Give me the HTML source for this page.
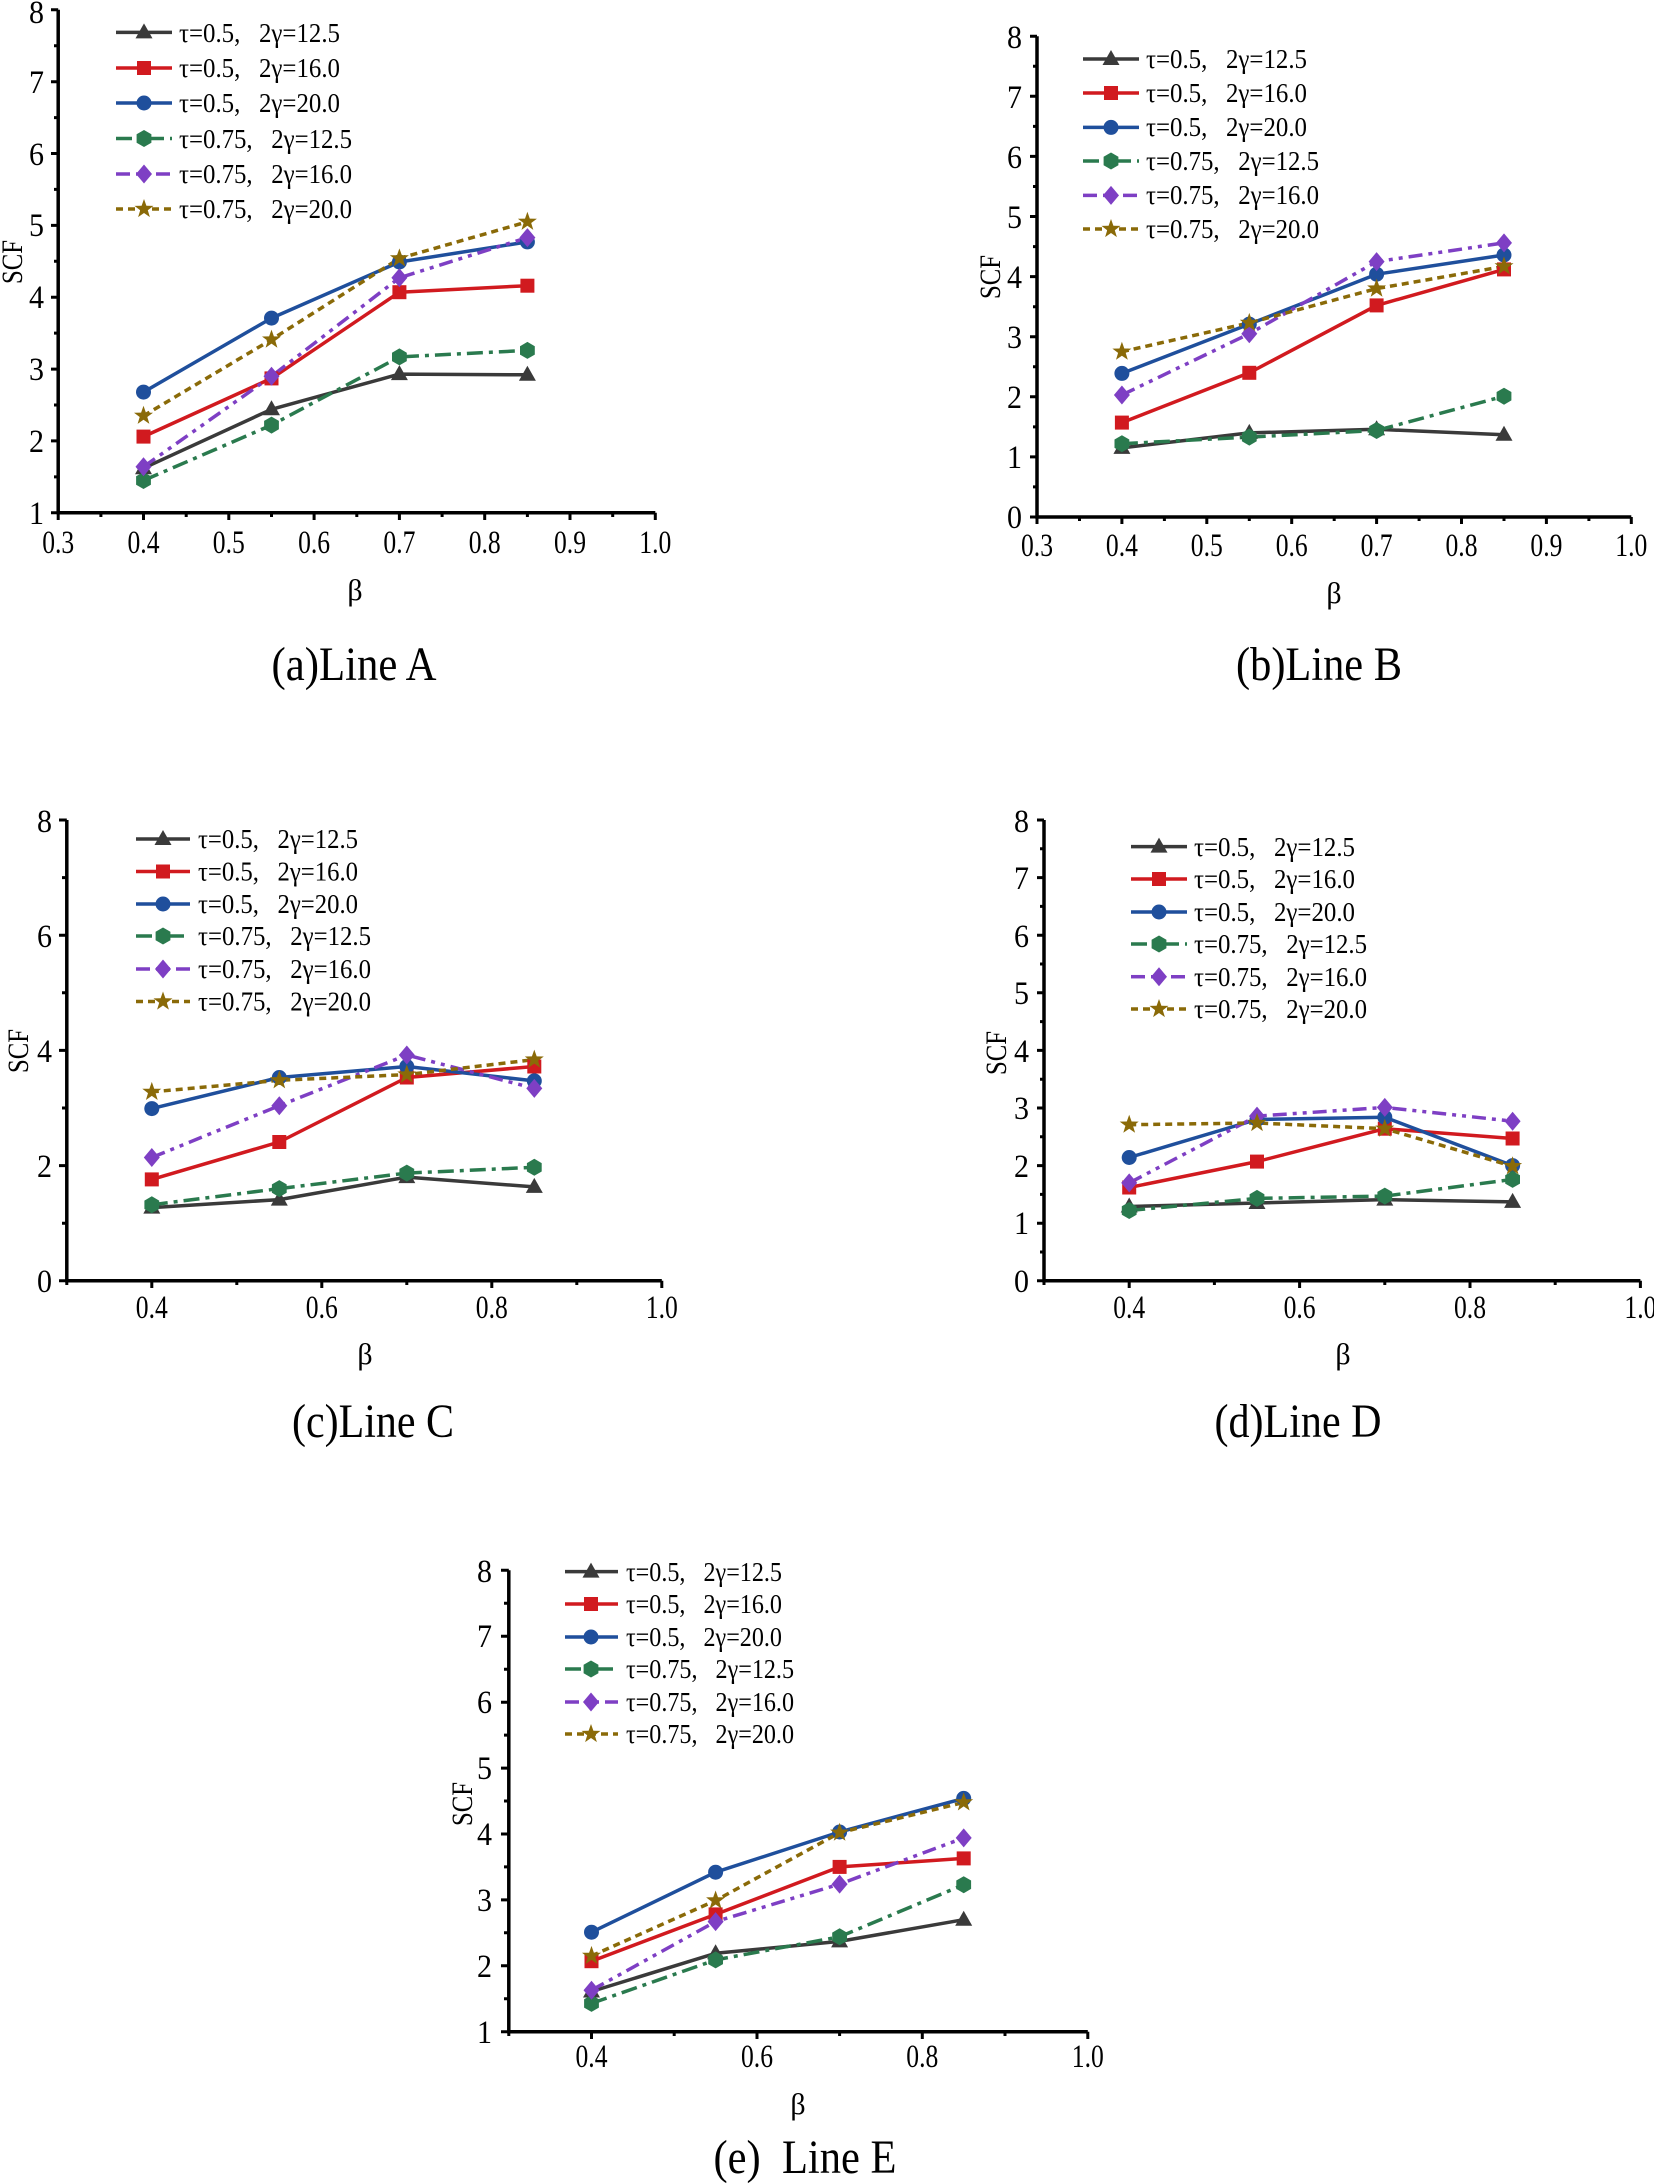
<!DOCTYPE html>
<html><head><meta charset="utf-8"><style>
html,body{margin:0;padding:0;background:#fff}
svg{display:block}
text{font-family:"Liberation Serif","DejaVu Serif",serif;fill:#000}
.t{font-size:33px}.l{font-size:27px}.h{font-size:48px}.a{font-size:30px}
.ax{stroke:#000;stroke-width:3.5;fill:none}
.tk{stroke:#000;stroke-width:3;fill:none}
.s{fill:none;stroke-width:3.5;stroke-linejoin:round;stroke-linecap:butt}
.k{stroke:#3a3a3a}.r{stroke:#d11a1f}.b{stroke:#1f4f9c}
.g{stroke:#2a7a4e;stroke-dasharray:16 6 4 6}
.p{stroke:#7e3fc4;stroke-dasharray:14 6 4 6 4 6}
.o{stroke:#8a6a08;stroke-dasharray:7 5}
</style></head><body>
<svg width="1654" height="2184" viewBox="0 0 1654 2184" xmlns="http://www.w3.org/2000/svg">
<defs>
<polygon id="mk" points="0,-9 8.5,6 -8.5,6" fill="#3a3a3a"/>
<rect id="mr" x="-7" y="-7" width="14" height="14" fill="#d11a1f"/>
<circle id="mb" r="7.5" fill="#1f4f9c"/>
<polygon id="mg" points="0,-8.5 7.4,-4.2 7.4,4.2 0,8.5 -7.4,4.2 -7.4,-4.2" fill="#2a7a4e"/>
<polygon id="mp" points="0,-9.5 8,0 0,9.5 -8,0" fill="#7e3fc4"/>
<polygon id="mo" points="0,-10 2.4,-3.2 9.5,-3.1 3.8,1.2 5.9,8.1 0,4 -5.9,8.1 -3.8,1.2 -9.5,-3.1 -2.4,-3.2" fill="#8a6a08"/>
</defs>

<!-- ================= Panel A ================= -->
<path class="ax" d="M58.2,9.8 L58.2,512.8 L655.3,512.8"/>
<path class="tk" d="M58.2,512.8L51,512.8M58.2,440.9L51,440.9M58.2,369.1L51,369.1M58.2,297.2L51,297.2M58.2,225.4L51,225.4M58.2,153.5L51,153.5M58.2,81.7L51,81.7M58.2,9.8L51,9.8
M58.2,476.9L54,476.9M58.2,405L54,405M58.2,333.1L54,333.1M58.2,261.3L54,261.3M58.2,189.4L54,189.4M58.2,117.6L54,117.6M58.2,45.7L54,45.7
M58.2,512.8L58.2,520M143.5,512.8L143.5,520M228.8,512.8L228.8,520M314.1,512.8L314.1,520M399.4,512.8L399.4,520M484.7,512.8L484.7,520M570,512.8L570,520M655.3,512.8L655.3,520
M100.9,512.8L100.9,517M186.2,512.8L186.2,517M271.5,512.8L271.5,517M356.8,512.8L356.8,517M442.1,512.8L442.1,517M527.4,512.8L527.4,517M612.7,512.8L612.7,517"/>
<g class="t" text-anchor="end">
<text x="44" y="524" textLength="15" lengthAdjust="spacingAndGlyphs">1</text>
<text x="44" y="452" textLength="15" lengthAdjust="spacingAndGlyphs">2</text>
<text x="44" y="380" textLength="15" lengthAdjust="spacingAndGlyphs">3</text>
<text x="44" y="308" textLength="15" lengthAdjust="spacingAndGlyphs">4</text>
<text x="44" y="236" textLength="15" lengthAdjust="spacingAndGlyphs">5</text>
<text x="44" y="165" textLength="15" lengthAdjust="spacingAndGlyphs">6</text>
<text x="44" y="93" textLength="15" lengthAdjust="spacingAndGlyphs">7</text>
<text x="44" y="23" textLength="15" lengthAdjust="spacingAndGlyphs">8</text>
</g>
<g class="t" text-anchor="middle">
<text x="58.2" y="553" textLength="32" lengthAdjust="spacingAndGlyphs">0.3</text>
<text x="143.5" y="553" textLength="32" lengthAdjust="spacingAndGlyphs">0.4</text>
<text x="228.8" y="553" textLength="32" lengthAdjust="spacingAndGlyphs">0.5</text>
<text x="314.1" y="553" textLength="32" lengthAdjust="spacingAndGlyphs">0.6</text>
<text x="399.4" y="553" textLength="32" lengthAdjust="spacingAndGlyphs">0.7</text>
<text x="484.7" y="553" textLength="32" lengthAdjust="spacingAndGlyphs">0.8</text>
<text x="570" y="553" textLength="32" lengthAdjust="spacingAndGlyphs">0.9</text>
<text x="655.3" y="553" textLength="32" lengthAdjust="spacingAndGlyphs">1.0</text>
</g>
<text class="a" x="355" y="600" text-anchor="middle">β</text>
<text class="a" transform="translate(22,262) rotate(-90)" text-anchor="middle" textLength="44" lengthAdjust="spacingAndGlyphs">SCF</text>
<text class="h" x="354" y="680" text-anchor="middle" textLength="165" lengthAdjust="spacingAndGlyphs">(a)Line A</text>
<polyline class="s k" points="143.5,468.2 271.5,409.3 399.4,374.1 527.4,374.8"/>
<polyline class="s r" points="143.5,436.6 271.5,378.4 399.4,292.2 527.4,285.7"/>
<polyline class="s b" points="143.5,392.1 271.5,318.1 399.4,262 527.4,241.9"/>
<polyline class="s g" points="143.5,480.5 271.5,425.1 399.4,356.9 527.4,350.4"/>
<polyline class="s p" points="143.5,466.8 271.5,376.3 399.4,277.8 527.4,237.6"/>
<polyline class="s o" points="143.5,415.8 271.5,339.6 399.4,258.4 527.4,221.8"/>
<use href="#mk" x="143.5" y="468.2"/><use href="#mk" x="271.5" y="409.3"/><use href="#mk" x="399.4" y="374.1"/><use href="#mk" x="527.4" y="374.8"/>
<use href="#mr" x="143.5" y="436.6"/><use href="#mr" x="271.5" y="378.4"/><use href="#mr" x="399.4" y="292.2"/><use href="#mr" x="527.4" y="285.7"/>
<use href="#mb" x="143.5" y="392.1"/><use href="#mb" x="271.5" y="318.1"/><use href="#mb" x="399.4" y="262"/><use href="#mb" x="527.4" y="241.9"/>
<use href="#mg" x="143.5" y="480.5"/><use href="#mg" x="271.5" y="425.1"/><use href="#mg" x="399.4" y="356.9"/><use href="#mg" x="527.4" y="350.4"/>
<use href="#mp" x="143.5" y="466.8"/><use href="#mp" x="271.5" y="376.3"/><use href="#mp" x="399.4" y="277.8"/><use href="#mp" x="527.4" y="237.6"/>
<use href="#mo" x="143.5" y="415.8"/><use href="#mo" x="271.5" y="339.6"/><use href="#mo" x="399.4" y="258.4"/><use href="#mo" x="527.4" y="221.8"/>
<path class="s k" d="M116,32.4H172"/><use href="#mk" x="144" y="32.4"/>
<path class="s r" d="M116,68H172"/><use href="#mr" x="144" y="68"/>
<path class="s b" d="M116,103H172"/><use href="#mb" x="144" y="103"/>
<path class="s g" d="M116,138.5H172"/><use href="#mg" x="144" y="138.5"/>
<path class="s p" d="M116,174H172"/><use href="#mp" x="144" y="174"/>
<path class="s o" d="M116,209H172"/><use href="#mo" x="144" y="209"/>
<g class="l">
<text x="179" y="42" textLength="161" lengthAdjust="spacingAndGlyphs">τ=0.5,&#160;&#160;&#160;2γ=12.5</text>
<text x="179" y="77" textLength="161" lengthAdjust="spacingAndGlyphs">τ=0.5,&#160;&#160;&#160;2γ=16.0</text>
<text x="179" y="112" textLength="161" lengthAdjust="spacingAndGlyphs">τ=0.5,&#160;&#160;&#160;2γ=20.0</text>
<text x="179" y="148" textLength="173" lengthAdjust="spacingAndGlyphs">τ=0.75,&#160;&#160;&#160;2γ=12.5</text>
<text x="179" y="183" textLength="173" lengthAdjust="spacingAndGlyphs">τ=0.75,&#160;&#160;&#160;2γ=16.0</text>
<text x="179" y="218" textLength="173" lengthAdjust="spacingAndGlyphs">τ=0.75,&#160;&#160;&#160;2γ=20.0</text>
</g>

<!-- ================= Panel B ================= -->
<path class="ax" d="M1037,36.2 L1037,517 L1631.3,517"/>
<path class="tk" d="M1037,517L1030,517M1037,456.9L1030,456.9M1037,396.8L1030,396.8M1037,336.7L1030,336.7M1037,276.6L1030,276.6M1037,216.5L1030,216.5M1037,156.4L1030,156.4M1037,96.3L1030,96.3M1037,36.2L1030,36.2
M1037,486.9L1033,486.9M1037,426.9L1033,426.9M1037,366.8L1033,366.8M1037,306.7L1033,306.7M1037,246.6L1033,246.6M1037,186.5L1033,186.5M1037,126.4L1033,126.4M1037,66.3L1033,66.3
M1037,517L1037,524M1121.9,517L1121.9,524M1206.8,517L1206.8,524M1291.7,517L1291.7,524M1376.6,517L1376.6,524M1461.5,517L1461.5,524M1546.4,517L1546.4,524M1631.3,517L1631.3,524
M1079.5,517L1079.5,521M1164.4,517L1164.4,521M1249.3,517L1249.3,521M1334.2,517L1334.2,521M1419.1,517L1419.1,521M1504,517L1504,521M1588.9,517L1588.9,521"/>
<g class="t" text-anchor="end">
<text x="1022" y="528" textLength="15" lengthAdjust="spacingAndGlyphs">0</text>
<text x="1022" y="468" textLength="15" lengthAdjust="spacingAndGlyphs">1</text>
<text x="1022" y="408" textLength="15" lengthAdjust="spacingAndGlyphs">2</text>
<text x="1022" y="348" textLength="15" lengthAdjust="spacingAndGlyphs">3</text>
<text x="1022" y="288" textLength="15" lengthAdjust="spacingAndGlyphs">4</text>
<text x="1022" y="228" textLength="15" lengthAdjust="spacingAndGlyphs">5</text>
<text x="1022" y="168" textLength="15" lengthAdjust="spacingAndGlyphs">6</text>
<text x="1022" y="108" textLength="15" lengthAdjust="spacingAndGlyphs">7</text>
<text x="1022" y="48" textLength="15" lengthAdjust="spacingAndGlyphs">8</text>
</g>
<g class="t" text-anchor="middle">
<text x="1037" y="556" textLength="32" lengthAdjust="spacingAndGlyphs">0.3</text>
<text x="1121.9" y="556" textLength="32" lengthAdjust="spacingAndGlyphs">0.4</text>
<text x="1206.8" y="556" textLength="32" lengthAdjust="spacingAndGlyphs">0.5</text>
<text x="1291.7" y="556" textLength="32" lengthAdjust="spacingAndGlyphs">0.6</text>
<text x="1376.6" y="556" textLength="32" lengthAdjust="spacingAndGlyphs">0.7</text>
<text x="1461.5" y="556" textLength="32" lengthAdjust="spacingAndGlyphs">0.8</text>
<text x="1546.4" y="556" textLength="32" lengthAdjust="spacingAndGlyphs">0.9</text>
<text x="1631.3" y="556" textLength="32" lengthAdjust="spacingAndGlyphs">1.0</text>
</g>
<text class="a" x="1334" y="603" text-anchor="middle">β</text>
<text class="a" transform="translate(1000,277) rotate(-90)" text-anchor="middle" textLength="44" lengthAdjust="spacingAndGlyphs">SCF</text>
<text class="h" x="1319" y="680" text-anchor="middle" textLength="166" lengthAdjust="spacingAndGlyphs">(b)Line B</text>
<polyline class="s k" points="1121.9,447.9 1249.3,432.9 1376.6,429.3 1504,434.7"/>
<polyline class="s r" points="1121.9,422.6 1249.3,372.8 1376.6,305.4 1504,269.4"/>
<polyline class="s b" points="1121.9,373.4 1249.3,324.1 1376.6,274.2 1504,255"/>
<polyline class="s g" points="1121.9,443.7 1249.3,437.1 1376.6,430.5 1504,396.2"/>
<polyline class="s p" points="1121.9,395 1249.3,333.7 1376.6,261.6 1504,242.9"/>
<polyline class="s o" points="1121.9,351.7 1249.3,322.9 1376.6,288.6 1504,266.4"/>
<use href="#mk" x="1121.9" y="447.9"/><use href="#mk" x="1249.3" y="432.9"/><use href="#mk" x="1376.6" y="429.3"/><use href="#mk" x="1504" y="434.7"/>
<use href="#mr" x="1121.9" y="422.6"/><use href="#mr" x="1249.3" y="372.8"/><use href="#mr" x="1376.6" y="305.4"/><use href="#mr" x="1504" y="269.4"/>
<use href="#mb" x="1121.9" y="373.4"/><use href="#mb" x="1249.3" y="324.1"/><use href="#mb" x="1376.6" y="274.2"/><use href="#mb" x="1504" y="255"/>
<use href="#mg" x="1121.9" y="443.7"/><use href="#mg" x="1249.3" y="437.1"/><use href="#mg" x="1376.6" y="430.5"/><use href="#mg" x="1504" y="396.2"/>
<use href="#mp" x="1121.9" y="395"/><use href="#mp" x="1249.3" y="333.7"/><use href="#mp" x="1376.6" y="261.6"/><use href="#mp" x="1504" y="242.9"/>
<use href="#mo" x="1121.9" y="351.7"/><use href="#mo" x="1249.3" y="322.9"/><use href="#mo" x="1376.6" y="288.6"/><use href="#mo" x="1504" y="266.4"/>
<path class="s k" d="M1083,59H1139"/><use href="#mk" x="1111" y="59"/>
<path class="s r" d="M1083,93H1139"/><use href="#mr" x="1111" y="93"/>
<path class="s b" d="M1083,127.4H1139"/><use href="#mb" x="1111" y="127.4"/>
<path class="s g" d="M1083,161H1139"/><use href="#mg" x="1111" y="161"/>
<path class="s p" d="M1083,195.4H1139"/><use href="#mp" x="1111" y="195.4"/>
<path class="s o" d="M1083,229H1139"/><use href="#mo" x="1111" y="229"/>
<g class="l">
<text x="1146" y="68" textLength="161" lengthAdjust="spacingAndGlyphs">τ=0.5,&#160;&#160;&#160;2γ=12.5</text>
<text x="1146" y="102" textLength="161" lengthAdjust="spacingAndGlyphs">τ=0.5,&#160;&#160;&#160;2γ=16.0</text>
<text x="1146" y="136" textLength="161" lengthAdjust="spacingAndGlyphs">τ=0.5,&#160;&#160;&#160;2γ=20.0</text>
<text x="1146" y="170" textLength="173" lengthAdjust="spacingAndGlyphs">τ=0.75,&#160;&#160;&#160;2γ=12.5</text>
<text x="1146" y="204" textLength="173" lengthAdjust="spacingAndGlyphs">τ=0.75,&#160;&#160;&#160;2γ=16.0</text>
<text x="1146" y="238" textLength="173" lengthAdjust="spacingAndGlyphs">τ=0.75,&#160;&#160;&#160;2γ=20.0</text>
</g>

<!-- ================= Panel C ================= -->
<path class="ax" d="M66.8,820 L66.8,1280.8 L661.8,1280.8"/>
<path class="tk" d="M66.8,1280.8L59,1280.8M66.8,1165.6L59,1165.6M66.8,1050.4L59,1050.4M66.8,935.2L59,935.2M66.8,820L59,820
M66.8,1223.2L62,1223.2M66.8,1108L62,1108M66.8,992.8L62,992.8M66.8,877.6L62,877.6
M151.8,1280.8L151.8,1288M321.8,1280.8L321.8,1288M491.8,1280.8L491.8,1288M661.8,1280.8L661.8,1288
M66.8,1280.8L66.8,1285M236.8,1280.8L236.8,1285M406.8,1280.8L406.8,1285M576.8,1280.8L576.8,1285"/>
<g class="t" text-anchor="end">
<text x="52" y="1292" textLength="15" lengthAdjust="spacingAndGlyphs">0</text>
<text x="52" y="1177" textLength="15" lengthAdjust="spacingAndGlyphs">2</text>
<text x="52" y="1062" textLength="15" lengthAdjust="spacingAndGlyphs">4</text>
<text x="52" y="947" textLength="15" lengthAdjust="spacingAndGlyphs">6</text>
<text x="52" y="832" textLength="15" lengthAdjust="spacingAndGlyphs">8</text>
</g>
<g class="t" text-anchor="middle">
<text x="151.8" y="1318" textLength="32" lengthAdjust="spacingAndGlyphs">0.4</text>
<text x="321.8" y="1318" textLength="32" lengthAdjust="spacingAndGlyphs">0.6</text>
<text x="491.8" y="1318" textLength="32" lengthAdjust="spacingAndGlyphs">0.8</text>
<text x="661.8" y="1318" textLength="32" lengthAdjust="spacingAndGlyphs">1.0</text>
</g>
<text class="a" x="365" y="1364" text-anchor="middle">β</text>
<text class="a" transform="translate(28,1051) rotate(-90)" text-anchor="middle" textLength="44" lengthAdjust="spacingAndGlyphs">SCF</text>
<text class="h" x="373" y="1437" text-anchor="middle" textLength="162" lengthAdjust="spacingAndGlyphs">(c)Line C</text>
<polyline class="s k" points="151.8,1207.6 279.3,1199.6 406.8,1177.1 534.3,1186.9"/>
<polyline class="s r" points="151.8,1179.4 279.3,1142 406.8,1077.5 534.3,1066.5"/>
<polyline class="s b" points="151.8,1108.6 279.3,1077.5 406.8,1066.5 534.3,1080.9"/>
<polyline class="s g" points="151.8,1204.8 279.3,1188.6 406.8,1173.1 534.3,1167.3"/>
<polyline class="s p" points="151.8,1157.5 279.3,1105.7 406.8,1055 534.3,1088.4"/>
<polyline class="s o" points="151.8,1091.9 279.3,1080.3 406.8,1074.6 534.3,1059.6"/>
<use href="#mk" x="151.8" y="1207.6"/><use href="#mk" x="279.3" y="1199.6"/><use href="#mk" x="406.8" y="1177.1"/><use href="#mk" x="534.3" y="1186.9"/>
<use href="#mr" x="151.8" y="1179.4"/><use href="#mr" x="279.3" y="1142"/><use href="#mr" x="406.8" y="1077.5"/><use href="#mr" x="534.3" y="1066.5"/>
<use href="#mb" x="151.8" y="1108.6"/><use href="#mb" x="279.3" y="1077.5"/><use href="#mb" x="406.8" y="1066.5"/><use href="#mb" x="534.3" y="1080.9"/>
<use href="#mg" x="151.8" y="1204.8"/><use href="#mg" x="279.3" y="1188.6"/><use href="#mg" x="406.8" y="1173.1"/><use href="#mg" x="534.3" y="1167.3"/>
<use href="#mp" x="151.8" y="1157.5"/><use href="#mp" x="279.3" y="1105.7"/><use href="#mp" x="406.8" y="1055"/><use href="#mp" x="534.3" y="1088.4"/>
<use href="#mo" x="151.8" y="1091.9"/><use href="#mo" x="279.3" y="1080.3"/><use href="#mo" x="406.8" y="1074.6"/><use href="#mo" x="534.3" y="1059.6"/>
<path class="s k" d="M136,839H190"/><use href="#mk" x="163" y="839"/>
<path class="s r" d="M136,871.5H190"/><use href="#mr" x="163" y="871.5"/>
<path class="s b" d="M136,904H190"/><use href="#mb" x="163" y="904"/>
<path class="s g" d="M136,936H190"/><use href="#mg" x="163" y="936"/>
<path class="s p" d="M136,969H190"/><use href="#mp" x="163" y="969"/>
<path class="s o" d="M136,1001.5H190"/><use href="#mo" x="163" y="1001.5"/>
<g class="l">
<text x="198" y="848" textLength="160" lengthAdjust="spacingAndGlyphs">τ=0.5,&#160;&#160;&#160;2γ=12.5</text>
<text x="198" y="880.5" textLength="160" lengthAdjust="spacingAndGlyphs">τ=0.5,&#160;&#160;&#160;2γ=16.0</text>
<text x="198" y="913" textLength="160" lengthAdjust="spacingAndGlyphs">τ=0.5,&#160;&#160;&#160;2γ=20.0</text>
<text x="198" y="945" textLength="173" lengthAdjust="spacingAndGlyphs">τ=0.75,&#160;&#160;&#160;2γ=12.5</text>
<text x="198" y="978" textLength="173" lengthAdjust="spacingAndGlyphs">τ=0.75,&#160;&#160;&#160;2γ=16.0</text>
<text x="198" y="1010.5" textLength="173" lengthAdjust="spacingAndGlyphs">τ=0.75,&#160;&#160;&#160;2γ=20.0</text>
</g>

<!-- ================= Panel D ================= -->
<path class="ax" d="M1044,820 L1044,1280.8 L1640.4,1280.8"/>
<path class="tk" d="M1044,1280.8L1037,1280.8M1044,1223.2L1037,1223.2M1044,1165.6L1037,1165.6M1044,1108L1037,1108M1044,1050.4L1037,1050.4M1044,992.8L1037,992.8M1044,935.2L1037,935.2M1044,877.6L1037,877.6M1044,820L1037,820
M1044,1252L1040,1252M1044,1194.4L1040,1194.4M1044,1136.8L1040,1136.8M1044,1079.2L1040,1079.2M1044,1021.6L1040,1021.6M1044,964L1040,964M1044,906.4L1040,906.4M1044,848.8L1040,848.8
M1129.2,1280.8L1129.2,1288M1299.6,1280.8L1299.6,1288M1470,1280.8L1470,1288M1640.4,1280.8L1640.4,1288
M1044,1280.8L1044,1285M1214.4,1280.8L1214.4,1285M1384.8,1280.8L1384.8,1285M1555.2,1280.8L1555.2,1285"/>
<g class="t" text-anchor="end">
<text x="1029" y="1292" textLength="15" lengthAdjust="spacingAndGlyphs">0</text>
<text x="1029" y="1234" textLength="15" lengthAdjust="spacingAndGlyphs">1</text>
<text x="1029" y="1177" textLength="15" lengthAdjust="spacingAndGlyphs">2</text>
<text x="1029" y="1119" textLength="15" lengthAdjust="spacingAndGlyphs">3</text>
<text x="1029" y="1062" textLength="15" lengthAdjust="spacingAndGlyphs">4</text>
<text x="1029" y="1004" textLength="15" lengthAdjust="spacingAndGlyphs">5</text>
<text x="1029" y="947" textLength="15" lengthAdjust="spacingAndGlyphs">6</text>
<text x="1029" y="889" textLength="15" lengthAdjust="spacingAndGlyphs">7</text>
<text x="1029" y="832" textLength="15" lengthAdjust="spacingAndGlyphs">8</text>
</g>
<g class="t" text-anchor="middle">
<text x="1129.2" y="1318" textLength="32" lengthAdjust="spacingAndGlyphs">0.4</text>
<text x="1299.6" y="1318" textLength="32" lengthAdjust="spacingAndGlyphs">0.6</text>
<text x="1470" y="1318" textLength="32" lengthAdjust="spacingAndGlyphs">0.8</text>
<text x="1640.4" y="1318" textLength="32" lengthAdjust="spacingAndGlyphs">1.0</text>
</g>
<text class="a" x="1343" y="1364" text-anchor="middle">β</text>
<text class="a" transform="translate(1006,1053) rotate(-90)" text-anchor="middle" textLength="44" lengthAdjust="spacingAndGlyphs">SCF</text>
<text class="h" x="1298" y="1437" text-anchor="middle" textLength="167" lengthAdjust="spacingAndGlyphs">(d)Line D</text>
<polyline class="s k" points="1129.2,1206.5 1257,1203 1384.8,1199.6 1512.6,1201.9"/>
<polyline class="s r" points="1129.2,1187.5 1257,1161.6 1384.8,1128.7 1512.6,1138.5"/>
<polyline class="s b" points="1129.2,1157.5 1257,1119.5 1384.8,1117.2 1512.6,1165.6"/>
<polyline class="s g" points="1129.2,1210.5 1257,1198.4 1384.8,1196.1 1512.6,1179.4"/>
<polyline class="s p" points="1129.2,1182.9 1257,1116.1 1384.8,1107.4 1512.6,1121.2"/>
<polyline class="s o" points="1129.2,1124.7 1257,1123 1384.8,1128.7 1512.6,1166.2"/>
<use href="#mk" x="1129.2" y="1206.5"/><use href="#mk" x="1257" y="1203"/><use href="#mk" x="1384.8" y="1199.6"/><use href="#mk" x="1512.6" y="1201.9"/>
<use href="#mr" x="1129.2" y="1187.5"/><use href="#mr" x="1257" y="1161.6"/><use href="#mr" x="1384.8" y="1128.7"/><use href="#mr" x="1512.6" y="1138.5"/>
<use href="#mb" x="1129.2" y="1157.5"/><use href="#mb" x="1257" y="1119.5"/><use href="#mb" x="1384.8" y="1117.2"/><use href="#mb" x="1512.6" y="1165.6"/>
<use href="#mg" x="1129.2" y="1210.5"/><use href="#mg" x="1257" y="1198.4"/><use href="#mg" x="1384.8" y="1196.1"/><use href="#mg" x="1512.6" y="1179.4"/>
<use href="#mp" x="1129.2" y="1182.9"/><use href="#mp" x="1257" y="1116.1"/><use href="#mp" x="1384.8" y="1107.4"/><use href="#mp" x="1512.6" y="1121.2"/>
<use href="#mo" x="1129.2" y="1124.7"/><use href="#mo" x="1257" y="1123"/><use href="#mo" x="1384.8" y="1128.7"/><use href="#mo" x="1512.6" y="1166.2"/>
<path class="s k" d="M1131,846.6H1187"/><use href="#mk" x="1159" y="846.6"/>
<path class="s r" d="M1131,879H1187"/><use href="#mr" x="1159" y="879"/>
<path class="s b" d="M1131,912H1187"/><use href="#mb" x="1159" y="912"/>
<path class="s g" d="M1131,944H1187"/><use href="#mg" x="1159" y="944"/>
<path class="s p" d="M1131,976.7H1187"/><use href="#mp" x="1159" y="976.7"/>
<path class="s o" d="M1131,1009H1187"/><use href="#mo" x="1159" y="1009"/>
<g class="l">
<text x="1194" y="856" textLength="161" lengthAdjust="spacingAndGlyphs">τ=0.5,&#160;&#160;&#160;2γ=12.5</text>
<text x="1194" y="888" textLength="161" lengthAdjust="spacingAndGlyphs">τ=0.5,&#160;&#160;&#160;2γ=16.0</text>
<text x="1194" y="921" textLength="161" lengthAdjust="spacingAndGlyphs">τ=0.5,&#160;&#160;&#160;2γ=20.0</text>
<text x="1194" y="953" textLength="173" lengthAdjust="spacingAndGlyphs">τ=0.75,&#160;&#160;&#160;2γ=12.5</text>
<text x="1194" y="986" textLength="173" lengthAdjust="spacingAndGlyphs">τ=0.75,&#160;&#160;&#160;2γ=16.0</text>
<text x="1194" y="1018" textLength="173" lengthAdjust="spacingAndGlyphs">τ=0.75,&#160;&#160;&#160;2γ=20.0</text>
</g>

<!-- ================= Panel E ================= -->
<path class="ax" d="M508.8,1570.3 L508.8,2031.7 L1087.8,2031.7"/>
<path class="tk" d="M508.8,2031.7L501,2031.7M508.8,1965.8L501,1965.8M508.8,1899.9L501,1899.9M508.8,1834L501,1834M508.8,1768.1L501,1768.1M508.8,1702.2L501,1702.2M508.8,1636.2L501,1636.2M508.8,1570.3L501,1570.3
M508.8,1998.7L504,1998.7M508.8,1932.8L504,1932.8M508.8,1866.9L504,1866.9M508.8,1801L504,1801M508.8,1735.1L504,1735.1M508.8,1669.2L504,1669.2M508.8,1603.3L504,1603.3
M591.5,2031.7L591.5,2039M757,2031.7L757,2039M922.3,2031.7L922.3,2039M1087.8,2031.7L1087.8,2039
M508.8,2031.7L508.8,2036M674.2,2031.7L674.2,2036M839.6,2031.7L839.6,2036M1005,2031.7L1005,2036"/>
<g class="t" text-anchor="end">
<text x="492" y="2043" textLength="15" lengthAdjust="spacingAndGlyphs">1</text>
<text x="492" y="1977" textLength="15" lengthAdjust="spacingAndGlyphs">2</text>
<text x="492" y="1911" textLength="15" lengthAdjust="spacingAndGlyphs">3</text>
<text x="492" y="1845" textLength="15" lengthAdjust="spacingAndGlyphs">4</text>
<text x="492" y="1779" textLength="15" lengthAdjust="spacingAndGlyphs">5</text>
<text x="492" y="1713" textLength="15" lengthAdjust="spacingAndGlyphs">6</text>
<text x="492" y="1647" textLength="15" lengthAdjust="spacingAndGlyphs">7</text>
<text x="492" y="1582" textLength="15" lengthAdjust="spacingAndGlyphs">8</text>
</g>
<g class="t" text-anchor="middle">
<text x="591.5" y="2067" textLength="32" lengthAdjust="spacingAndGlyphs">0.4</text>
<text x="757" y="2067" textLength="32" lengthAdjust="spacingAndGlyphs">0.6</text>
<text x="922.3" y="2067" textLength="32" lengthAdjust="spacingAndGlyphs">0.8</text>
<text x="1087.8" y="2067" textLength="32" lengthAdjust="spacingAndGlyphs">1.0</text>
</g>
<text class="a" x="798" y="2114" text-anchor="middle">β</text>
<text class="a" transform="translate(472,1804) rotate(-90)" text-anchor="middle" textLength="44" lengthAdjust="spacingAndGlyphs">SCF</text>
<text class="h" x="805" y="2173" text-anchor="middle" textLength="183" lengthAdjust="spacingAndGlyphs">(e)&#160;&#160;Line E</text>
<polyline class="s k" points="591.5,1991.5 715.6,1953.3 839.6,1941.4 963.7,1919.7"/>
<polyline class="s r" points="591.5,1961.2 715.6,1914.4 839.6,1866.9 963.7,1858.4"/>
<polyline class="s b" points="591.5,1932.2 715.6,1872.2 839.6,1832 963.7,1798.4"/>
<polyline class="s g" points="591.5,2003.4 715.6,1959.9 839.6,1936.8 963.7,1884.7"/>
<polyline class="s p" points="591.5,1990.2 715.6,1921.6 839.6,1884.1 963.7,1837.9"/>
<polyline class="s o" points="591.5,1955.9 715.6,1900.5 839.6,1832.7 963.7,1802.4"/>
<use href="#mk" x="591.5" y="1991.5"/><use href="#mk" x="715.6" y="1953.3"/><use href="#mk" x="839.6" y="1941.4"/><use href="#mk" x="963.7" y="1919.7"/>
<use href="#mr" x="591.5" y="1961.2"/><use href="#mr" x="715.6" y="1914.4"/><use href="#mr" x="839.6" y="1866.9"/><use href="#mr" x="963.7" y="1858.4"/>
<use href="#mb" x="591.5" y="1932.2"/><use href="#mb" x="715.6" y="1872.2"/><use href="#mb" x="839.6" y="1832"/><use href="#mb" x="963.7" y="1798.4"/>
<use href="#mg" x="591.5" y="2003.4"/><use href="#mg" x="715.6" y="1959.9"/><use href="#mg" x="839.6" y="1936.8"/><use href="#mg" x="963.7" y="1884.7"/>
<use href="#mp" x="591.5" y="1990.2"/><use href="#mp" x="715.6" y="1921.6"/><use href="#mp" x="839.6" y="1884.1"/><use href="#mp" x="963.7" y="1837.9"/>
<use href="#mo" x="591.5" y="1955.9"/><use href="#mo" x="715.6" y="1900.5"/><use href="#mo" x="839.6" y="1832.7"/><use href="#mo" x="963.7" y="1802.4"/>
<path class="s k" d="M565,1571.6H618"/><use href="#mk" x="591" y="1571.6"/>
<path class="s r" d="M565,1604H618"/><use href="#mr" x="591" y="1604"/>
<path class="s b" d="M565,1637H618"/><use href="#mb" x="591" y="1637"/>
<path class="s g" d="M565,1669H618"/><use href="#mg" x="591" y="1669"/>
<path class="s p" d="M565,1702H618"/><use href="#mp" x="591" y="1702"/>
<path class="s o" d="M565,1734H618"/><use href="#mo" x="591" y="1734"/>
<g class="l">
<text x="626" y="1581" textLength="156" lengthAdjust="spacingAndGlyphs">τ=0.5,&#160;&#160;&#160;2γ=12.5</text>
<text x="626" y="1613" textLength="156" lengthAdjust="spacingAndGlyphs">τ=0.5,&#160;&#160;&#160;2γ=16.0</text>
<text x="626" y="1646" textLength="156" lengthAdjust="spacingAndGlyphs">τ=0.5,&#160;&#160;&#160;2γ=20.0</text>
<text x="626" y="1678" textLength="168" lengthAdjust="spacingAndGlyphs">τ=0.75,&#160;&#160;&#160;2γ=12.5</text>
<text x="626" y="1711" textLength="168" lengthAdjust="spacingAndGlyphs">τ=0.75,&#160;&#160;&#160;2γ=16.0</text>
<text x="626" y="1743" textLength="168" lengthAdjust="spacingAndGlyphs">τ=0.75,&#160;&#160;&#160;2γ=20.0</text>
</g>
</svg>
</body></html>
